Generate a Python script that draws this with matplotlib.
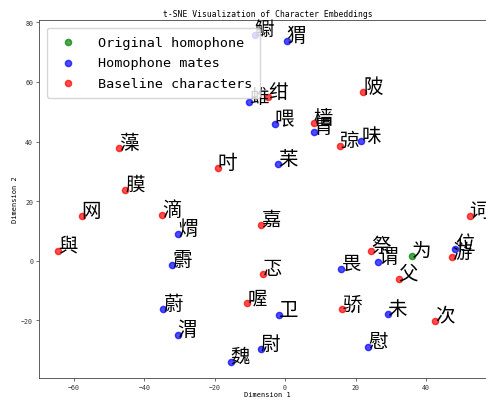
import matplotlib
matplotlib.use("Agg")
import matplotlib.pyplot as plt

# values
orig_chars = ["为"]
orig_x = [36.0]
orig_y = [1.7]

mate_chars = ["猬", "鳚", "蜼", "喂", "胃", "味", "苿", "煟", "霨", "蔚",
              "渭", "魏", "尉", "卫", "畏", "谓", "未", "慰", "位"]
mate_x = [0.4, -8.6, -10.3, -2.9, 8.2, 21.6, -1.9, -30.3, -32.1, -34.6,
          -30.5, -15.5, -6.9, -1.8, 16.0, 26.4, 29.1, 23.6, 48.3]
mate_y = [73.8, 75.7, 53.3, 45.9, 43.3, 40.2, 32.3, 9.0, -1.5, -16.3,
          -25.0, -34.1, -29.6, -18.2, -2.8, -0.3, -18.0, -29.0, 3.9]

base_chars = ["藻", "膜", "吋", "网", "與", "滴", "喔", "嘉", "忑", "骄",
              "祭", "父", "次", "游", "词", "绀", "陂", "樯", "弶"]
base_x = [-47.2, -45.5, -19.2, -57.8, -64.4, -34.9, -10.7, -6.8, -6.2, 16.3,
          24.5, 32.3, 42.5, 47.4, 52.4, -4.8, 22.2, 8.1, 15.6]
base_y = [37.8, 23.7, 31.1, 14.9, 3.3, 15.4, -14.3, 12.0, -4.6, -16.4,
          3.3, -6.0, -20.2, 1.2, 14.9, 54.8, 56.7, 46.1, 38.4]

LATIN = ["DejaVu Sans Mono", "Noto Sans CJK SC"]
CJK = ["Noto Sans CJK SC", "DejaVu Sans"]


def main():
    fig = plt.figure(figsize=(4.86, 4.02), dpi=100)
    ax = fig.add_axes([38.7 / 486, 1 - 379.3 / 402, 457.6 / 486, 358.6 / 402])

    ax.scatter(orig_x, orig_y, c="green", alpha=0.7, s=20,
               label="Original homophone", zorder=3)
    ax.scatter(mate_x, mate_y, c="blue", alpha=0.7, s=20,
               label="Homophone mates", zorder=2)
    ax.scatter(base_x, base_y, c="red", alpha=0.7, s=20,
               label="Baseline characters", zorder=2)

    for chars, xs, ys in [(orig_chars, orig_x, orig_y),
                          (mate_chars, mate_x, mate_y),
                          (base_chars, base_x, base_y)]:
        for ch, x, y in zip(chars, xs, ys):
            ax.annotate(ch, (x, y), fontsize=14, family=CJK, zorder=4)

    ax.set_xlim(-70, 60)
    ax.set_ylim(-39.5, 80.9)
    ax.set_xticks([-60, -40, -20, 0, 20, 40])
    ax.set_yticks([-20, 0, 20, 40, 60, 80])
    ax.tick_params(labelsize=4.8, length=2, width=0.5, pad=2, colors="#333333")
    for lab in ax.get_xticklabels() + ax.get_yticklabels():
        lab.set_family(LATIN)
    for sp in ax.spines.values():
        sp.set_linewidth(0.6)
        sp.set_color("#444444")

    ax.set_title("t-SNE Visualization of Character Embeddings",
                 fontsize=5.8, family=LATIN, pad=3)
    ax.set_xlabel("Dimension 1", fontsize=5.0, family=LATIN, labelpad=1)
    ax.set_ylabel("Dimension 2", fontsize=5.0, family=LATIN, labelpad=2)

    leg = ax.legend(loc="upper left", prop={"family": LATIN, "size": 9.7},
                    labelspacing=0.55, handletextpad=1.2, borderpad=0.6,
                    borderaxespad=0.6, framealpha=0.8, markerscale=1.0)
    leg.set_zorder(5)

    fig.savefig("out.png", dpi=100)


if __name__ == "__main__":
    main()
